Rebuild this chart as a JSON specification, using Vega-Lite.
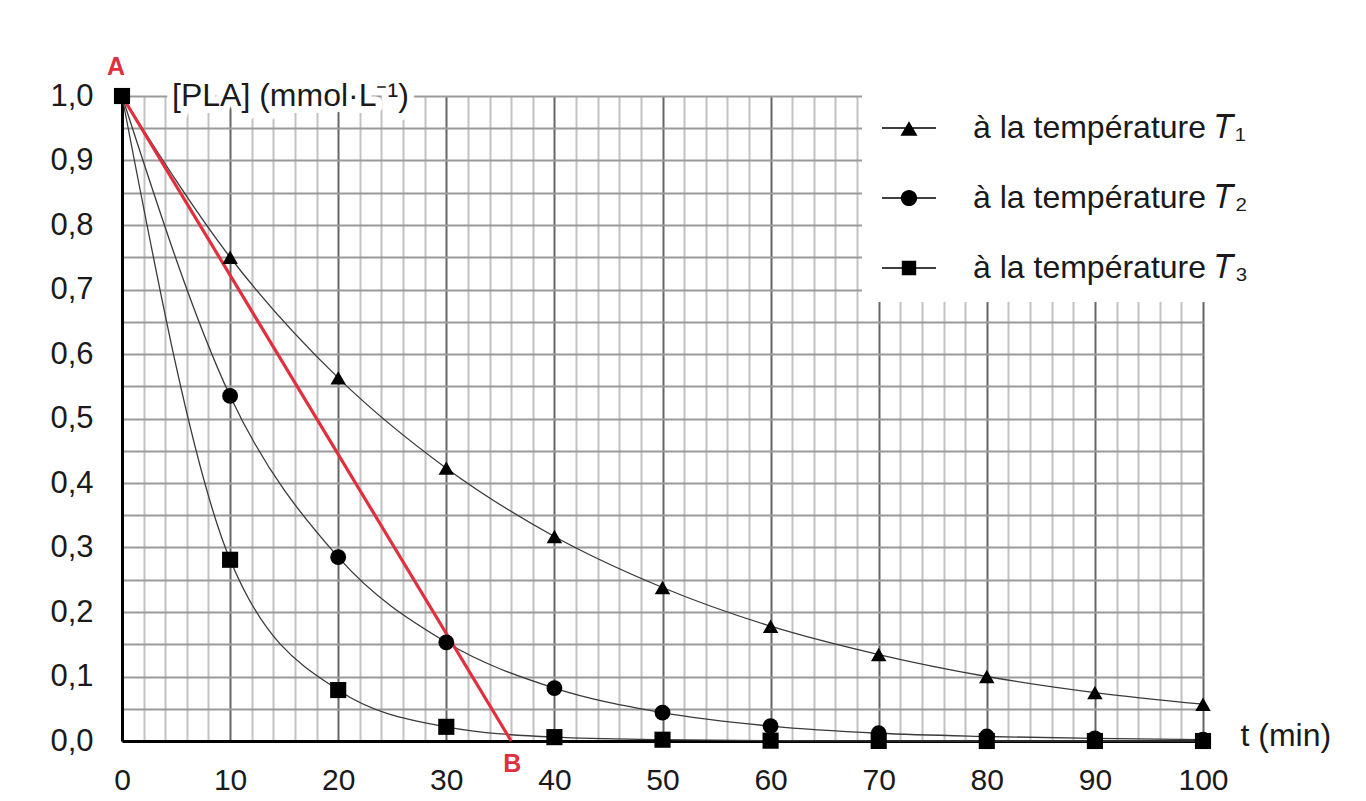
{
  "$schema": "https://vega.github.io/schema/vega-lite/v6.json",
  "width": 1081,
  "height": 645,
  "autosize": {"type": "none"},
  "padding": {"left": 122, "top": 96, "right": 163, "bottom": 60},
  "background": "white",
  "config": {"view": {"stroke": null}, "font": "Liberation Sans"},
  "datasets": {
    "mesures": [
      {"serie": "à la température 𝑇₁", "t": 0, "c": 1.0},
      {"serie": "à la température 𝑇₁", "t": 10, "c": 0.75},
      {"serie": "à la température 𝑇₁", "t": 20, "c": 0.563},
      {"serie": "à la température 𝑇₁", "t": 30, "c": 0.423},
      {"serie": "à la température 𝑇₁", "t": 40, "c": 0.317},
      {"serie": "à la température 𝑇₁", "t": 50, "c": 0.238},
      {"serie": "à la température 𝑇₁", "t": 60, "c": 0.178},
      {"serie": "à la température 𝑇₁", "t": 70, "c": 0.134},
      {"serie": "à la température 𝑇₁", "t": 80, "c": 0.1},
      {"serie": "à la température 𝑇₁", "t": 90, "c": 0.075},
      {"serie": "à la température 𝑇₁", "t": 100, "c": 0.057},
      {"serie": "à la température 𝑇₂", "t": 0, "c": 1.0},
      {"serie": "à la température 𝑇₂", "t": 10, "c": 0.535},
      {"serie": "à la température 𝑇₂", "t": 20, "c": 0.285},
      {"serie": "à la température 𝑇₂", "t": 30, "c": 0.153},
      {"serie": "à la température 𝑇₂", "t": 40, "c": 0.082},
      {"serie": "à la température 𝑇₂", "t": 50, "c": 0.044},
      {"serie": "à la température 𝑇₂", "t": 60, "c": 0.023},
      {"serie": "à la température 𝑇₂", "t": 70, "c": 0.012},
      {"serie": "à la température 𝑇₂", "t": 80, "c": 0.007},
      {"serie": "à la température 𝑇₂", "t": 90, "c": 0.004},
      {"serie": "à la température 𝑇₂", "t": 100, "c": 0.002},
      {"serie": "à la température 𝑇₃", "t": 0, "c": 1.0},
      {"serie": "à la température 𝑇₃", "t": 10, "c": 0.281},
      {"serie": "à la température 𝑇₃", "t": 20, "c": 0.079},
      {"serie": "à la température 𝑇₃", "t": 30, "c": 0.022},
      {"serie": "à la température 𝑇₃", "t": 40, "c": 0.006},
      {"serie": "à la température 𝑇₃", "t": 50, "c": 0.002},
      {"serie": "à la température 𝑇₃", "t": 60, "c": 0.0005},
      {"serie": "à la température 𝑇₃", "t": 70, "c": 0.0001},
      {"serie": "à la température 𝑇₃", "t": 80, "c": 0.0},
      {"serie": "à la température 𝑇₃", "t": 90, "c": 0.0},
      {"serie": "à la température 𝑇₃", "t": 100, "c": 0.0}
    ],
    "tangente": [{"t": 0, "c": 1.0}, {"t": 36, "c": 0.0}],
    "repereA": [{"lettre": "A", "t": 0, "c": 1.0}],
    "repereB": [{"lettre": "B", "t": 36, "c": 0.0}],
    "titre": [{"texte": "[PLA] (mmol·L⁻¹)", "t": 0, "c": 1.0}]
  },
  "encoding": {
    "x": {
      "field": "t",
      "type": "quantitative",
      "scale": {"domain": [0, 100], "nice": false, "zero": false},
      "axis": {
        "values": [0,2,4,6,8,10,12,14,16,18,20,22,24,26,28,30,32,34,36,38,40,42,44,46,48,50,52,54,56,58,60,62,64,66,68,70,72,74,76,78,80,82,84,86,88,90,92,94,96,98,100],
        "grid": true,
        "gridColor": {"condition": {"test": "datum.value % 10 === 0", "value": "#666666"}, "value": "#c2c2c2"},
        "gridWidth": 2,
        "domainColor": "black",
        "domainWidth": 3,
        "ticks": false,
        "tickSize": 0,
        "labelExpr": "datum.value % 10 === 0 ? datum.label : ''",
        "labelFont": "Liberation Sans",
        "labelFontSize": 30,
        "labelColor": "#1a1a1a",
        "labelPadding": 24,
        "labelOverlap": false,
        "labelFlush": false,
        "title": "t (min)",
        "titleX": 1118,
        "titleY": -6,
        "titleAngle": 0,
        "titleAlign": "left",
        "titleBaseline": "middle",
        "titleFont": "Liberation Sans",
        "titleFontSize": 32,
        "titleFontWeight": "normal",
        "titleColor": "#1a1a1a"
      }
    },
    "y": {
      "field": "c",
      "type": "quantitative",
      "scale": {"domain": [0, 1], "nice": false, "zero": false},
      "axis": {
        "values": [0,0.05,0.1,0.15,0.2,0.25,0.3,0.35,0.4,0.45,0.5,0.55,0.6,0.65,0.7,0.75,0.8,0.85,0.9,0.95,1],
        "grid": true,
        "gridColor": "#9a9a9a",
        "gridWidth": 2,
        "domainColor": "black",
        "domainWidth": 3,
        "ticks": false,
        "tickSize": 0,
        "labelExpr": "abs(datum.value * 10 - round(datum.value * 10)) < 0.001 ? replace(format(datum.value, '.1f'), '.', ',') : ''",
        "labelFont": "Liberation Sans",
        "labelFontSize": 31,
        "labelColor": "#1a1a1a",
        "labelPadding": 29,
        "labelOverlap": false,
        "labelFlush": false,
        "title": null
      }
    }
  },
  "layer": [
    {
      "data": {"name": "mesures"},
      "mark": {"type": "line", "interpolate": "monotone", "stroke": "#3a3a3a", "strokeWidth": 1.3},
      "encoding": {"detail": {"field": "serie", "type": "nominal"}}
    },
    {
      "data": {"name": "tangente"},
      "mark": {"type": "line", "stroke": "#e0303e", "strokeWidth": 3.2},
      "encoding": {}
    },
    {
      "data": {"name": "mesures"},
      "mark": {"type": "point", "filled": true, "color": "black", "opacity": 1},
      "encoding": {
        "shape": {
          "field": "serie",
          "type": "nominal",
          "scale": {"domain": ["à la température 𝑇₁", "à la température 𝑇₂", "à la température 𝑇₃"], "range": ["triangle-up", "circle", "square"]},
          "legend": null
        },
        "size": {
          "field": "serie",
          "type": "ordinal",
          "scale": {"domain": ["à la température 𝑇₁", "à la température 𝑇₂", "à la température 𝑇₃"], "range": [240, 260, 200]},
          "legend": null
        }
      }
    },
    {
      "data": {"name": "mesures"},
      "transform": [{"filter": "false"}],
      "mark": {"type": "point", "filled": true, "fill": "black", "size": 324},
      "encoding": {
        "shape": {
          "field": "serie",
          "type": "nominal",
          "scale": {
            "domain": ["à la température 𝑇₁", "à la température 𝑇₂", "à la température 𝑇₃"],
            "range": [
              "M-3,-0.07H3V0.07H-3ZM0,-0.75L0.95,0.85L-0.95,0.85Z",
              "M-3,-0.07H3V0.07H-3ZM-0.9,0A0.9,0.9,0,1,1,0.9,0A0.9,0.9,0,1,1,-0.9,0Z",
              "M-3,-0.07H3V0.07H-3ZM-0.8,-0.8H0.8V0.8H-0.8Z"
            ]
          },
          "legend": {
            "orient": "none",
            "legendX": 740,
            "legendY": -2,
            "title": null,
            "fillColor": "white",
            "padding": 18,
            "symbolSize": 324,
            "symbolFillColor": "black",
            "symbolOpacity": 1,
            "symbolOffset": 13,
            "labelOffset": 48,
            "labelFont": "Liberation Sans",
            "labelFontSize": 32,
            "labelColor": "#1a1a1a",
            "labelLimit": 500,
            "rowPadding": 38
          }
        }
      }
    },
    {
      "data": {"name": "titre"},
      "mark": {"type": "text", "align": "left", "baseline": "middle", "dx": 50, "font": "Liberation Sans", "fontSize": 32, "fill": "white", "stroke": "white", "strokeWidth": 14, "strokeJoin": "round"},
      "encoding": {"text": {"field": "texte"}}
    },
    {
      "data": {"name": "titre"},
      "mark": {"type": "text", "align": "left", "baseline": "middle", "dx": 50, "font": "Liberation Sans", "fontSize": 32, "color": "#1a1a1a"},
      "encoding": {"text": {"field": "texte"}}
    },
    {
      "data": {"name": "repereA"},
      "mark": {"type": "text", "align": "center", "baseline": "middle", "dx": -6, "dy": -29, "font": "Liberation Sans", "fontSize": 25, "fontWeight": "bold", "color": "#e0303e"},
      "encoding": {"text": {"field": "lettre"}}
    },
    {
      "data": {"name": "repereB"},
      "mark": {"type": "text", "align": "center", "baseline": "middle", "dx": 1, "dy": 23, "font": "Liberation Sans", "fontSize": 25, "fontWeight": "bold", "color": "#e0303e"},
      "encoding": {"text": {"field": "lettre"}}
    }
  ],
  "resolve": {"scale": {"shape": "independent", "size": "independent"}, "legend": {"shape": "independent"}}
}
